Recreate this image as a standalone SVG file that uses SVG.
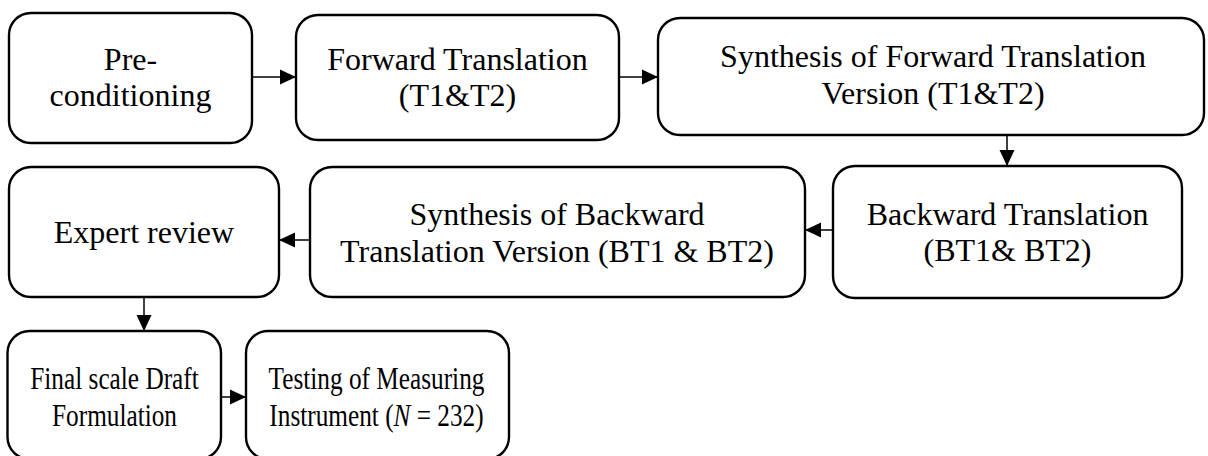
<svg xmlns="http://www.w3.org/2000/svg" width="1208" height="456" viewBox="0 0 1208 456">
<style>
.box{fill:#fff;stroke:#000;stroke-width:2.4}
.t{font-family:"Liberation Serif","Times New Roman",serif;font-size:32px;fill:#000;text-anchor:middle}
.c{stroke:#000;stroke-width:1.5;fill:none;marker-end:url(#ah)}
</style>
<defs>
<marker id="ah" markerUnits="userSpaceOnUse" markerWidth="16" markerHeight="16" viewBox="0 0 16 16" refX="16" refY="8" orient="auto">
<path d="M0,0.5 L16,8 L0,15.5 Z" fill="#000"/>
</marker>
</defs>
<rect width="1208" height="456" fill="#fff"/>
<g id="n1"><rect class="box" x="9" y="13" width="243" height="130" rx="22"/>
<text class="t" x="130.5" y="69.5">Pre-</text><text class="t" x="130.5" y="105.5">conditioning</text></g>
<g id="n2"><rect class="box" x="296" y="15" width="323" height="125" rx="22"/>
<text class="t" x="457.5" y="70">Forward Translation</text><text class="t" x="457.5" y="106">(T1&amp;T2)</text></g>
<g id="n3"><rect class="box" x="658" y="18" width="546" height="117" rx="22"/>
<text class="t" x="933" y="67">Synthesis of Forward Translation</text><text class="t" x="933" y="104">Version (T1&amp;T2)</text></g>
<g id="n4"><rect class="box" x="833" y="166" width="349" height="132" rx="22"/>
<text class="t" x="1007.5" y="225">Backward Translation</text><text class="t" x="1007.5" y="261">(BT1&amp; BT2)</text></g>
<g id="n5"><rect class="box" x="310" y="167" width="495" height="130" rx="22"/>
<text class="t" x="557" y="225">Synthesis of Backward</text><text class="t" x="557" y="262">Translation Version (BT1 &amp; BT2)</text></g>
<g id="n6"><rect class="box" x="9" y="167" width="270" height="130" rx="22"/>
<text class="t" x="144" y="243">Expert review</text></g>
<g id="n7"><rect class="box" x="7.5" y="331" width="213.5" height="128" rx="22"/>
<g transform="translate(114.5,0) scale(0.79,1)"><text class="t" x="0" y="389">Final scale Draft</text><text class="t" x="0" y="426">Formulation</text></g></g>
<g id="n8"><rect class="box" x="246" y="331" width="263" height="128" rx="22"/>
<g transform="translate(376.5,0) scale(0.79,1)"><text class="t" x="0" y="389">Testing of Measuring</text><text class="t" x="0" y="426">Instrument (<tspan font-style="italic">N</tspan> = 232)</text></g></g>
<g id="connectors">
<line class="c" x1="252" y1="77" x2="296" y2="77"/>
<line class="c" x1="619" y1="77" x2="658" y2="77"/>
<line class="c" x1="1007" y1="135" x2="1007" y2="166"/>
<line class="c" x1="833" y1="230" x2="805" y2="230"/>
<line class="c" x1="310" y1="240" x2="279" y2="240"/>
<line class="c" x1="144" y1="297" x2="144" y2="331"/>
<line class="c" x1="221" y1="397" x2="246" y2="397"/>
</g>
</svg>
